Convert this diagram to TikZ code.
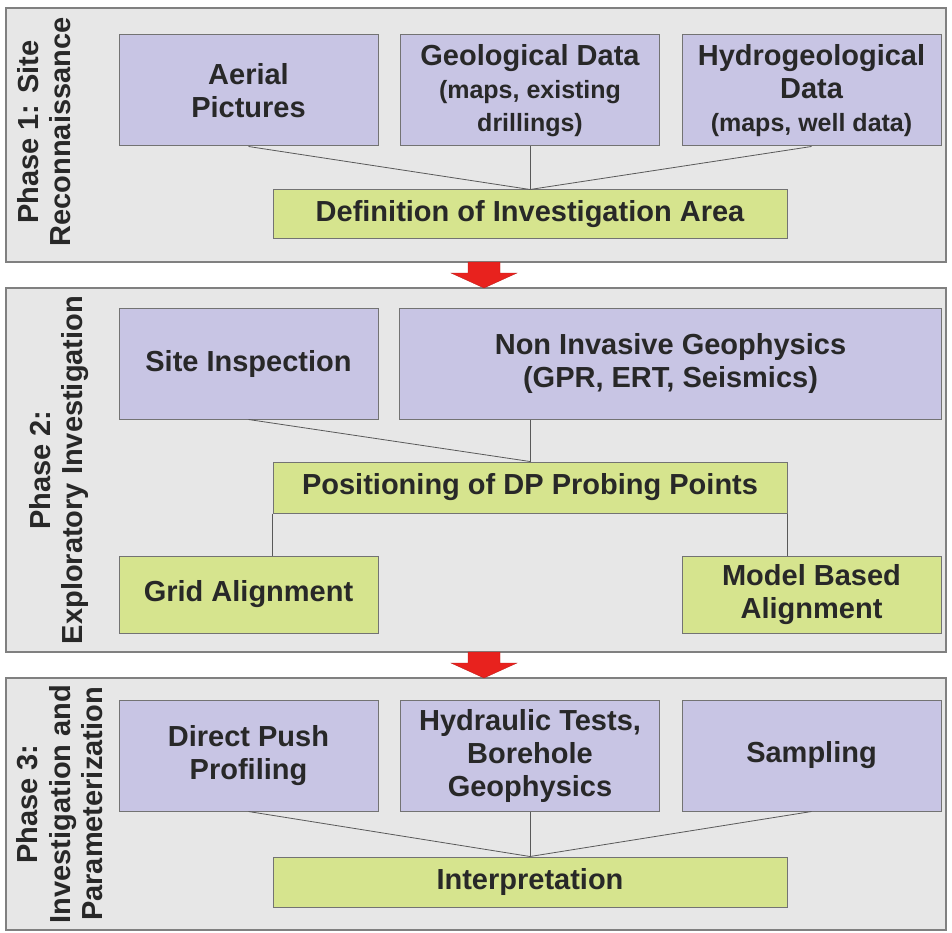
\documentclass[tikz,border=0pt]{standalone}
\usepackage{fontspec}
\setmainfont{Liberation Sans}
\begin{document}
\begin{tikzpicture}[x=1pt,y=-1pt,
  panel/.style={draw=black!50,line width=1.2pt,fill=black!9.5,minimum width=#1,inner sep=0pt},
  pbox/.style={draw=black!55,line width=1pt,fill=boxpurple,inner sep=2pt,align=center,text=textc,font=\bfseries\fontsize{29}{33}\selectfont},
  gbox/.style={draw=black!55,line width=1pt,fill=boxgreen,inner sep=2pt,align=center,text=textc,font=\bfseries\fontsize{29}{33}\selectfont},
  conn/.style={draw=black!65,line width=0.8pt},
  plabel/.style={rotate=90,align=center,text=textc,inner sep=0pt,font=\bfseries\fontsize{29}{32.5}\selectfont},
  redarrow/.style={fill=arrowred,draw=arrowred!80!black,line width=0.3pt}
]
\definecolor{boxpurple}{RGB}{200,197,228}
\definecolor{boxgreen}{RGB}{214,228,142}
\definecolor{textc}{RGB}{40,40,40}
\definecolor{arrowred}{RGB}{232,34,30}
\useasboundingbox (0,0) rectangle (952,933);
\fill[white] (0,0) rectangle (952,933);

% panels
\node[panel=940pt,minimum height=254pt] (p1) at (476,135) {};
\node[panel=940pt,minimum height=364pt] (p2) at (476,470) {};
\node[panel=940pt,minimum height=252pt] (p3) at (476,804) {};

% phase labels
\node[plabel] (l1) at (44,132) {Phase 1: Site\\Reconnaissance};
\node[plabel] (l2) at (59,470) {Phase 2:\\Exploratory Investigation};
\node[plabel] (l3) at (60,804) {Phase 3:\\Investigation and\\Parameterization};

% Phase 1
\node[pbox,minimum width=259pt,minimum height=111pt] (aer) at (248.5,90.5) {Aerial\\Pictures};
\node[pbox,minimum width=259pt,minimum height=111pt] (geo) at (530,90.5) {Geological Data\\{\fontsize{25}{29}\selectfont(maps, existing}\\{\fontsize{25}{29}\selectfont drillings)}};
\node[pbox,minimum width=259pt,minimum height=111pt] (hyd) at (811.5,90.5) {Hydrogeological\\Data\\{\fontsize{25}{29}\selectfont(maps, well data)}};
\node[gbox,minimum width=514pt,minimum height=49pt] (def) at (530,214.5) {Definition of Investigation Area};
\draw[conn] (aer.south) -- (def.north);
\draw[conn] (geo.south) -- (def.north);
\draw[conn] (hyd.south) -- (def.north);

% arrow 1
\draw[redarrow] (468,262) -- (500,262) -- (500,273) -- (517,273) -- (484,288) -- (451,273) -- (468,273) -- cycle;

% Phase 2
\node[pbox,minimum width=259pt,minimum height=111pt] (site) at (248.5,363.5) {Site Inspection};
\node[pbox,minimum width=542pt,minimum height=111pt] (noninv) at (670.5,363.5) {Non Invasive Geophysics\\(GPR, ERT, Seismics)};
\node[gbox,minimum width=514pt,minimum height=51pt] (pos) at (530,487.5) {Positioning of DP Probing Points};
\node[gbox,minimum width=259pt,minimum height=77pt] (grid) at (248.5,594.5) {Grid Alignment};
\node[gbox,minimum width=259pt,minimum height=77pt] (model) at (811.5,594.5) {Model Based\\Alignment};
\draw[conn] (site.south) -- (pos.north);
\draw[conn] (noninv.south -| pos.north) -- (pos.north);
\draw[conn] (pos.south west) -- (grid.north -| pos.south west);
\draw[conn] (pos.south east) -- (model.north -| pos.south east);

% arrow 2
\draw[redarrow] (468,652) -- (500,652) -- (500,663) -- (517,663) -- (484,678) -- (451,663) -- (468,663) -- cycle;

% Phase 3
\node[pbox,minimum width=259pt,minimum height=111pt] (dpp) at (248.5,755.5) {Direct Push\\Profiling};
\node[pbox,minimum width=259pt,minimum height=111pt] (hydr) at (530,755.5) {Hydraulic Tests,\\Borehole\\Geophysics};
\node[pbox,minimum width=259pt,minimum height=111pt] (samp) at (811.5,755.5) {Sampling};
\node[gbox,minimum width=514pt,minimum height=50pt] (interp) at (530,882) {Interpretation};
\draw[conn] (dpp.south) -- (interp.north);
\draw[conn] (hydr.south) -- (interp.north);
\draw[conn] (samp.south) -- (interp.north);
\end{tikzpicture}
\end{document}
